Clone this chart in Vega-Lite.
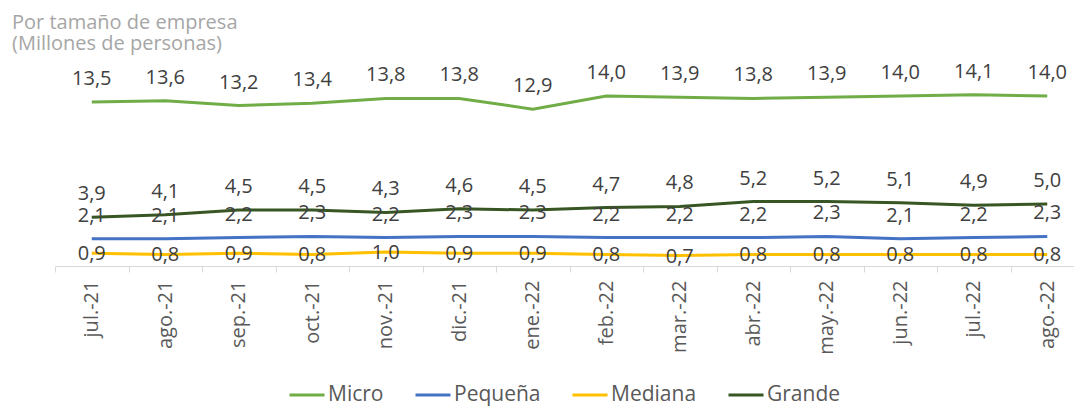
{
  "$schema": "https://vega.github.io/schema/vega-lite/v6.json",
  "width": 1019,
  "height": 195,
  "autosize": {"type": "none"},
  "padding": {"left": 55, "top": 71, "right": 0, "bottom": 140},
  "background": "white",
  "title": {
    "text": ["Por tamaño de empresa", "(Millones de personas)"],
    "anchor": "start",
    "frame": "group",
    "dx": -43,
    "font": "Open Sans",
    "fontSize": 20,
    "fontWeight": "normal",
    "color": "#a6a6a6",
    "lineHeight": 21,
    "offset": 8
  },
  "config": {
    "locale": {"number": {"decimal": ",", "thousands": ".", "grouping": [3], "currency": ["", " €"]}},
    "view": {"stroke": null},
    "font": "Open Sans"
  },
  "data": {
    "values": [
      {"mes": "jul.-21", "tamano": "Micro", "valor": 13.5},
      {"mes": "ago.-21", "tamano": "Micro", "valor": 13.6},
      {"mes": "sep.-21", "tamano": "Micro", "valor": 13.2},
      {"mes": "oct.-21", "tamano": "Micro", "valor": 13.4},
      {"mes": "nov.-21", "tamano": "Micro", "valor": 13.8},
      {"mes": "dic.-21", "tamano": "Micro", "valor": 13.8},
      {"mes": "ene.-22", "tamano": "Micro", "valor": 12.9},
      {"mes": "feb.-22", "tamano": "Micro", "valor": 14.0},
      {"mes": "mar.-22", "tamano": "Micro", "valor": 13.9},
      {"mes": "abr.-22", "tamano": "Micro", "valor": 13.8},
      {"mes": "may.-22", "tamano": "Micro", "valor": 13.9},
      {"mes": "jun.-22", "tamano": "Micro", "valor": 14.0},
      {"mes": "jul.-22", "tamano": "Micro", "valor": 14.1},
      {"mes": "ago.-22", "tamano": "Micro", "valor": 14.0},
      {"mes": "jul.-21", "tamano": "Pequeña", "valor": 2.1},
      {"mes": "ago.-21", "tamano": "Pequeña", "valor": 2.1},
      {"mes": "sep.-21", "tamano": "Pequeña", "valor": 2.2},
      {"mes": "oct.-21", "tamano": "Pequeña", "valor": 2.3},
      {"mes": "nov.-21", "tamano": "Pequeña", "valor": 2.2},
      {"mes": "dic.-21", "tamano": "Pequeña", "valor": 2.3},
      {"mes": "ene.-22", "tamano": "Pequeña", "valor": 2.3},
      {"mes": "feb.-22", "tamano": "Pequeña", "valor": 2.2},
      {"mes": "mar.-22", "tamano": "Pequeña", "valor": 2.2},
      {"mes": "abr.-22", "tamano": "Pequeña", "valor": 2.2},
      {"mes": "may.-22", "tamano": "Pequeña", "valor": 2.3},
      {"mes": "jun.-22", "tamano": "Pequeña", "valor": 2.1},
      {"mes": "jul.-22", "tamano": "Pequeña", "valor": 2.2},
      {"mes": "ago.-22", "tamano": "Pequeña", "valor": 2.3},
      {"mes": "jul.-21", "tamano": "Mediana", "valor": 0.9},
      {"mes": "ago.-21", "tamano": "Mediana", "valor": 0.8},
      {"mes": "sep.-21", "tamano": "Mediana", "valor": 0.9},
      {"mes": "oct.-21", "tamano": "Mediana", "valor": 0.8},
      {"mes": "nov.-21", "tamano": "Mediana", "valor": 1.0},
      {"mes": "dic.-21", "tamano": "Mediana", "valor": 0.9},
      {"mes": "ene.-22", "tamano": "Mediana", "valor": 0.9},
      {"mes": "feb.-22", "tamano": "Mediana", "valor": 0.8},
      {"mes": "mar.-22", "tamano": "Mediana", "valor": 0.7},
      {"mes": "abr.-22", "tamano": "Mediana", "valor": 0.8},
      {"mes": "may.-22", "tamano": "Mediana", "valor": 0.8},
      {"mes": "jun.-22", "tamano": "Mediana", "valor": 0.8},
      {"mes": "jul.-22", "tamano": "Mediana", "valor": 0.8},
      {"mes": "ago.-22", "tamano": "Mediana", "valor": 0.8},
      {"mes": "jul.-21", "tamano": "Grande", "valor": 3.9},
      {"mes": "ago.-21", "tamano": "Grande", "valor": 4.1},
      {"mes": "sep.-21", "tamano": "Grande", "valor": 4.5},
      {"mes": "oct.-21", "tamano": "Grande", "valor": 4.5},
      {"mes": "nov.-21", "tamano": "Grande", "valor": 4.3},
      {"mes": "dic.-21", "tamano": "Grande", "valor": 4.6},
      {"mes": "ene.-22", "tamano": "Grande", "valor": 4.5},
      {"mes": "feb.-22", "tamano": "Grande", "valor": 4.7},
      {"mes": "mar.-22", "tamano": "Grande", "valor": 4.8},
      {"mes": "abr.-22", "tamano": "Grande", "valor": 5.2},
      {"mes": "may.-22", "tamano": "Grande", "valor": 5.2},
      {"mes": "jun.-22", "tamano": "Grande", "valor": 5.1},
      {"mes": "jul.-22", "tamano": "Grande", "valor": 4.9},
      {"mes": "ago.-22", "tamano": "Grande", "valor": 5.0}
    ]
  },
  "encoding": {
    "x": {
      "field": "mes",
      "type": "ordinal",
      "sort": null,
      "scale": {"type": "band", "range": [0, 1029], "paddingInner": 0, "paddingOuter": 0},
      "axis": {
        "title": null,
        "labelAngle": -90,
        "labelFont": "Open Sans",
        "labelFontSize": 20,
        "labelColor": "#595959",
        "labelPadding": 8,
        "tickBand": "extent",
        "tickSize": 6,
        "tickColor": "#d9d9d9",
        "domainColor": "#d9d9d9",
        "domainWidth": 1,
        "grid": false
      }
    },
    "y": {
      "field": "valor",
      "type": "quantitative",
      "scale": {"domain": [-0.1667, 16.0833], "nice": false, "zero": false},
      "axis": null
    }
  },
  "layer": [
    {
      "mark": {"type": "line", "strokeWidth": 3},
      "encoding": {
        "color": {
          "field": "tamano",
          "type": "nominal",
          "scale": {
            "domain": ["Micro", "Pequeña", "Mediana", "Grande"],
            "range": ["#70AD47", "#4472C4", "#FFC000", "#375623"]
          },
          "legend": {
            "title": null,
            "orient": "none",
            "legendX": 233,
            "legendY": 305,
            "direction": "horizontal",
            "symbolType": "stroke",
            "symbolSize": 1225,
            "symbolStrokeWidth": 3,
            "labelFont": "Open Sans",
            "labelFontSize": 21,
            "labelColor": "#595959",
            "labelOffset": 2,
            "columnPadding": 25
          }
        }
      }
    },
    {
      "transform": [{"filter": "datum.tamano !== 'Mediana'"}],
      "mark": {"type": "text", "dy": -17, "baseline": "alphabetic", "font": "Open Sans", "fontSize": 20, "color": "#404040"},
      "encoding": {"text": {"field": "valor", "type": "quantitative", "format": ".1f"}}
    },
    {
      "transform": [{"filter": "datum.tamano === 'Mediana'"}],
      "mark": {"type": "text", "dy": 7, "baseline": "alphabetic", "font": "Open Sans", "fontSize": 20, "color": "#404040"},
      "encoding": {"text": {"field": "valor", "type": "quantitative", "format": ".1f"}}
    }
  ]
}
